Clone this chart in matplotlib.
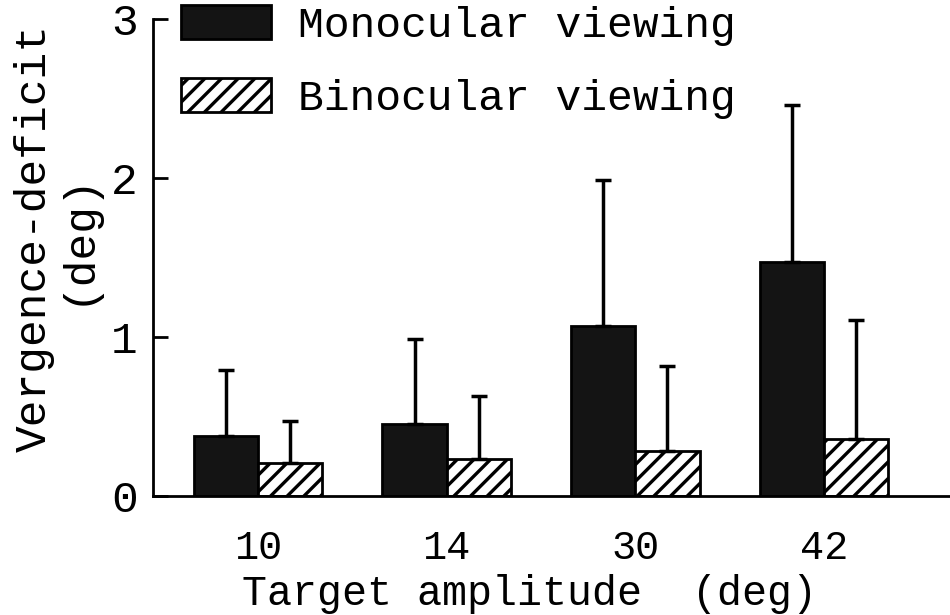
import numpy as np
import matplotlib.pyplot as plt

amplitudes = ['10', '14', '30', '42']
mono_mean = [0.38, 0.45, 1.07, 1.47]
mono_sd = [0.41, 0.54, 0.92, 0.99]
bino_mean = [0.21, 0.23, 0.28, 0.36]
bino_sd = [0.26, 0.40, 0.54, 0.75]

plt.rcParams['font.family'] = 'Liberation Mono'
plt.rcParams['hatch.linewidth'] = 2.4

fig = plt.figure(figsize=(9.5, 6.15), dpi=100)
ax = fig.add_axes([0.161, 0.1935, 0.839, 0.7756])

x = np.arange(len(amplitudes))
w = 0.34

b1 = ax.bar(x - w/2, mono_mean, w, color='#141414', edgecolor='black', lw=2,
            label='Monocular viewing', zorder=2)
b2 = ax.bar(x + w/2, bino_mean, w, color='white', edgecolor='black', lw=2,
            hatch='//', label='Binocular viewing', zorder=2)

# upward-only SD bars
zeros = np.zeros(len(x))
ax.errorbar(x - w/2, mono_mean, yerr=[zeros, mono_sd], fmt='none',
            ecolor='black', elinewidth=2.5, capsize=6, capthick=2.5, zorder=3)
ax.errorbar(x + w/2, bino_mean, yerr=[zeros, bino_sd], fmt='none',
            ecolor='black', elinewidth=2.5, capsize=6, capthick=2.5, zorder=3)

ax.set_xlim(-0.556, 3.667)
ax.set_ylim(0, 3)
ax.set_yticks([0, 1, 2, 3])
ax.set_xticks(x)
ax.set_xticklabels(amplitudes)

for s in ['top', 'right']:
    ax.spines[s].set_visible(False)
for s in ['left', 'bottom']:
    ax.spines[s].set_linewidth(2)

ax.tick_params(axis='y', direction='in', length=11, width=2, pad=11,
               labelsize=32)
ax.tick_params(axis='x', length=0, pad=24, labelsize=29)

ax.set_xlabel('Target amplitude  (deg)', fontsize=30, va='center')
ax.xaxis.set_label_coords(0.473, -0.205)
ax.set_ylabel('Vergence-deficit\n(deg)', fontsize=32, va='center',
              linespacing=1.05)
ax.yaxis.set_label_coords(-0.122, 0.541)

ax.legend(loc='upper left', bbox_to_anchor=(0.035, 1.03), frameon=False,
          fontsize=31, handlelength=2.1, handleheight=0.85,
          handletextpad=0.62, labelspacing=0.75, borderaxespad=0,
          borderpad=0)

fig.savefig('out.png', dpi=100)
